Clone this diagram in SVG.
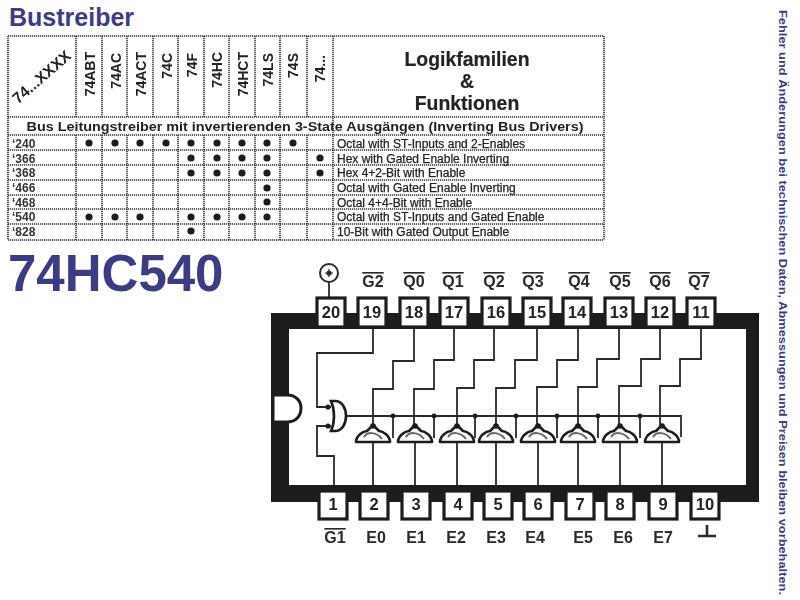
<svg xmlns="http://www.w3.org/2000/svg" width="800" height="600" viewBox="0 0 800 600">
<style>
text{font-family:"Liberation Sans",Arial,sans-serif}
.h1{font-weight:700;fill:#3c3c82}
.grid line{stroke:#333;stroke-width:1.6;stroke-dasharray:1.2 .8}
.th{font-weight:700;font-size:14px;fill:#222;text-anchor:end}
.big{font-weight:700;font-size:19.4px;fill:#222;text-anchor:middle;stroke:#222;stroke-width:.2}
.id{font-weight:700;font-size:12px;fill:#333}
.fn{font-size:12px;font-weight:400;fill:#222;stroke:#222;stroke-width:.25}
.dot{fill:#1f1f1f}
.wire{fill:none;stroke:#2a2a2a;stroke-width:1.8}
.pin rect{fill:#fff;stroke:#1c1c1c;stroke-width:3.2}
.pin text{font-weight:700;font-size:16.5px;fill:#222;text-anchor:middle}
.lab{font-weight:700;font-size:16px;fill:#2a2a2a;text-anchor:middle}
.ov{text-decoration:overline}
#d path{fill:#fff;stroke:#1c1c1c;stroke-width:2.6;stroke-linejoin:round}
#d path.in{fill:none;stroke:#666;stroke-width:2}
</style>
<defs>
<filter id="s" x="-5%" y="-5%" width="110%" height="110%"><feGaussianBlur stdDeviation="0.4"/></filter>
<g id="d"><path d="M-17 442C-17 436-10 431-6 431L0 425L6 431C10 431 17 436 17 442Z"/><path class="in" d="M-9 437C-6 432 3 431 9 439"/><circle cy="426" r="2.8" fill="#1c1c1c"/></g>
</defs>
<rect width="800" height="600" fill="#fff"/>
<text class="h1" x="9" y="26" font-size="25">Bustreiber</text>
<text class="h1" x="8" y="291" font-size="51">74HC540</text>
<text class="h1" font-size="11.5" transform="translate(779,10) rotate(90)" textLength="585" lengthAdjust="spacingAndGlyphs">Fehler und Änderungen bei technischen Daten, Abmessungen und Preisen bleiben vorbehalten.</text>

<g id="table" filter="url(#s)">
<g class="grid">
<line x1="8" y1="36" x2="604" y2="36"/><line x1="8" y1="117" x2="604" y2="117"/><line x1="8" y1="135" x2="604" y2="135"/><line x1="8" y1="150" x2="604" y2="150"/><line x1="8" y1="165" x2="604" y2="165"/><line x1="8" y1="180" x2="604" y2="180"/><line x1="8" y1="195" x2="604" y2="195"/><line x1="8" y1="209" x2="604" y2="209"/><line x1="8" y1="224" x2="604" y2="224"/><line x1="8" y1="240" x2="604" y2="240"/>
<line x1="8" y1="36" x2="8" y2="240"/><line x1="604" y1="36" x2="604" y2="240"/><line x1="333" y1="36" x2="333" y2="240"/>
<line x1="76" y1="36" x2="76" y2="117"/><line x1="102" y1="36" x2="102" y2="117"/><line x1="127" y1="36" x2="127" y2="117"/><line x1="153" y1="36" x2="153" y2="117"/><line x1="178" y1="36" x2="178" y2="117"/><line x1="204" y1="36" x2="204" y2="117"/><line x1="229" y1="36" x2="229" y2="117"/><line x1="255" y1="36" x2="255" y2="117"/><line x1="280" y1="36" x2="280" y2="117"/><line x1="307" y1="36" x2="307" y2="117"/>
<line x1="76" y1="135" x2="76" y2="240"/><line x1="102" y1="135" x2="102" y2="240"/><line x1="127" y1="135" x2="127" y2="240"/><line x1="153" y1="135" x2="153" y2="240"/><line x1="178" y1="135" x2="178" y2="240"/><line x1="204" y1="135" x2="204" y2="240"/><line x1="229" y1="135" x2="229" y2="240"/><line x1="255" y1="135" x2="255" y2="240"/><line x1="280" y1="135" x2="280" y2="240"/><line x1="307" y1="135" x2="307" y2="240"/>
</g>
<text transform="translate(45,81) rotate(-41)" font-size="15.5" font-weight="700" fill="#222" text-anchor="middle">74...XXXX</text>
<text class="th" transform="translate(95,52) rotate(-90)">74ABT</text>
<text class="th" transform="translate(121,53) rotate(-90)">74AC</text>
<text class="th" transform="translate(146,52) rotate(-90)">74ACT</text>
<text class="th" transform="translate(172,53) rotate(-90)">74C</text>
<text class="th" transform="translate(197,53) rotate(-90)">74F</text>
<text class="th" transform="translate(222,52) rotate(-90)">74HC</text>
<text class="th" transform="translate(248,52) rotate(-90)">74HCT</text>
<text class="th" transform="translate(273,53) rotate(-90)">74LS</text>
<text class="th" transform="translate(298,53) rotate(-90)">74S</text>
<text class="th" transform="translate(325,55) rotate(-90)">74...</text>
<text class="big" x="467" y="66">Logikfamilien</text>
<text class="big" x="467" y="88">&amp;</text>
<text class="big" x="467" y="110">Funktionen</text>
<text x="305" y="131" text-anchor="middle" font-size="13.5" font-weight="700" fill="#222" textLength="557" lengthAdjust="spacingAndGlyphs">Bus Leitungstreiber mit invertierenden 3-State Ausgängen (Inverting Bus Drivers)</text>
<text class="id" x="12" y="148">‘240</text><text class="id" x="12" y="163">‘366</text><text class="id" x="12" y="177">‘368</text><text class="id" x="12" y="192">‘466</text><text class="id" x="12" y="207">‘468</text><text class="id" x="12" y="221">‘540</text><text class="id" x="12" y="236">‘828</text>
<text class="fn" x="337" y="148">Octal with ST-Inputs and 2-Enables</text>
<text class="fn" x="337" y="163">Hex with Gated Enable Inverting</text>
<text class="fn" x="337" y="177">Hex 4+2-Bit with Enable</text>
<text class="fn" x="337" y="192">Octal with Gated Enable Inverting</text>
<text class="fn" x="337" y="207">Octal 4+4-Bit with Enable</text>
<text class="fn" x="337" y="221">Octal with ST-Inputs and Gated Enable</text>
<text class="fn" x="337" y="236">10-Bit with Gated Output Enable</text>
<g class="dot">
<circle cx="89" cy="143" r="3.6"/><circle cx="115" cy="143" r="3.6"/><circle cx="140" cy="143" r="3.6"/><circle cx="166" cy="143" r="3.6"/><circle cx="191" cy="143" r="3.6"/><circle cx="217" cy="143" r="3.6"/><circle cx="242" cy="143" r="3.6"/><circle cx="267" cy="143" r="3.6"/><circle cx="293" cy="143" r="3.6"/>
<circle cx="191" cy="158" r="3.6"/><circle cx="217" cy="158" r="3.6"/><circle cx="242" cy="158" r="3.6"/><circle cx="267" cy="158" r="3.6"/><circle cx="320" cy="158" r="3.6"/>
<circle cx="191" cy="173" r="3.6"/><circle cx="217" cy="173" r="3.6"/><circle cx="242" cy="173" r="3.6"/><circle cx="267" cy="173" r="3.6"/><circle cx="320" cy="173" r="3.6"/>
<circle cx="267" cy="188" r="3.6"/><circle cx="267" cy="202" r="3.6"/>
<circle cx="89" cy="217" r="3.6"/><circle cx="115" cy="217" r="3.6"/><circle cx="140" cy="217" r="3.6"/><circle cx="191" cy="217" r="3.6"/><circle cx="217" cy="217" r="3.6"/><circle cx="242" cy="217" r="3.6"/><circle cx="267" cy="217" r="3.6"/>
<circle cx="191" cy="231" r="3.6"/>
</g>
</g>

<g filter="url(#s)">
<g id="ic-body">
<path fill="#1c1c1c" fill-rule="evenodd" d="M271 313H759V502H271ZM289 329V485H746V329Z"/>
<path d="M273 395H287C296 395 301 401 301 408C301 416 296 422 287 422H273Z" fill="#fff" stroke="#1c1c1c" stroke-width="3"/>
</g>
<g id="connectors" class="wire">
<path d="M329 282V297"/>
<path d="M373 329V353H317V407H331"/>
<path d="M331 426H317V456H334V485"/>
<path d="M346 416H681V437"/>
<path d="M414 329V361H393V389H373V425"/>
<path d="M454 329V360H434V389H414V425"/>
<path d="M494 329V360H474V388H457V425"/>
<path d="M537 329V360H515V388H496V425"/>
<path d="M578 329V360H557V387H537V425"/>
<path d="M619 329V359H597V387H578V425"/>
<path d="M660 329V359H641V386H619V425"/>
<path d="M701 329V359H680V386H660V425"/>
<path d="M393 416V438M434 416V438M475 416V438M516 416V438M557 416V438M598 416V438M640 416V438"/>
<path d="M373 442V485M415 442V485M457 442V485M496 442V485M538 442V485M578 442V485M620 442V485M662 442V485"/>
<path d="M707 525V536M698 536H716" stroke-width="2.6"/>
</g>
<g class="dot"><circle cx="393" cy="416" r="2.4"/><circle cx="434" cy="416" r="2.4"/><circle cx="475" cy="416" r="2.4"/><circle cx="516" cy="416" r="2.4"/><circle cx="557" cy="416" r="2.4"/><circle cx="598" cy="416" r="2.4"/><circle cx="640" cy="416" r="2.4"/><circle cx="328" cy="407" r="2.6"/><circle cx="328" cy="426" r="2.6"/></g>
<g id="and-gate"><path d="M331 401H335C342 401 346 408 346 416C346 424 342 431 335 431H331C335 422 335 410 331 401Z" fill="#fff" stroke="#1c1c1c" stroke-width="2.6"/></g>
<g id="driver-0"><use href="#d" x="373"/></g>
<g id="driver-1"><use href="#d" x="415"/></g>
<g id="driver-2"><use href="#d" x="457"/></g>
<g id="driver-3"><use href="#d" x="496"/></g>
<g id="driver-4"><use href="#d" x="538"/></g>
<g id="driver-5"><use href="#d" x="578"/></g>
<g id="driver-6"><use href="#d" x="620"/></g>
<g id="driver-7"><use href="#d" x="662"/></g>

<g id="pin-20" class="pin"><rect x="317" y="298" width="28" height="29"/><text x="331" y="318">20</text></g>
<g id="pin-19" class="pin"><rect x="358" y="298" width="28" height="29"/><text x="372" y="318">19</text></g>
<g id="pin-18" class="pin"><rect x="400" y="298" width="28" height="29"/><text x="414" y="318">18</text></g>
<g id="pin-17" class="pin"><rect x="440" y="298" width="28" height="29"/><text x="454" y="318">17</text></g>
<g id="pin-16" class="pin"><rect x="482" y="298" width="28" height="29"/><text x="496" y="318">16</text></g>
<g id="pin-15" class="pin"><rect x="523" y="298" width="28" height="29"/><text x="537" y="318">15</text></g>
<g id="pin-14" class="pin"><rect x="563" y="298" width="28" height="29"/><text x="577" y="318">14</text></g>
<g id="pin-13" class="pin"><rect x="605" y="298" width="28" height="29"/><text x="619" y="318">13</text></g>
<g id="pin-12" class="pin"><rect x="646" y="298" width="28" height="29"/><text x="660" y="318">12</text></g>
<g id="pin-11" class="pin"><rect x="687" y="298" width="28" height="29"/><text x="701" y="318">11</text></g>
<g id="pin-1" class="pin"><rect x="319" y="491" width="28" height="28"/><text x="333" y="510">1</text></g>
<g id="pin-2" class="pin"><rect x="360" y="491" width="28" height="28"/><text x="374" y="510">2</text></g>
<g id="pin-3" class="pin"><rect x="402" y="491" width="28" height="28"/><text x="416" y="510">3</text></g>
<g id="pin-4" class="pin"><rect x="444" y="491" width="28" height="28"/><text x="458" y="510">4</text></g>
<g id="pin-5" class="pin"><rect x="484" y="491" width="28" height="28"/><text x="498" y="510">5</text></g>
<g id="pin-6" class="pin"><rect x="524" y="491" width="28" height="28"/><text x="538" y="510">6</text></g>
<g id="pin-7" class="pin"><rect x="566" y="491" width="28" height="28"/><text x="580" y="510">7</text></g>
<g id="pin-8" class="pin"><rect x="606" y="491" width="28" height="28"/><text x="620" y="510">8</text></g>
<g id="pin-9" class="pin"><rect x="649" y="491" width="28" height="28"/><text x="663" y="510">9</text></g>
<g id="pin-10" class="pin"><rect x="691" y="491" width="28" height="28"/><text x="705" y="510">10</text></g>

<g id="vcc"><circle cx="329" cy="273" r="9" fill="#fff" stroke="#2a2a2a" stroke-width="2"/><circle cx="329" cy="273" r="2.6" fill="#2a2a2a"/><path d="M329 269V277M325 273H333" stroke="#2a2a2a" stroke-width="1.2"/></g>
<g id="labels-top">
<text class="lab ov" x="373" y="287">G2</text><text class="lab ov" x="414" y="287">Q0</text><text class="lab ov" x="453" y="287">Q1</text><text class="lab ov" x="494" y="287">Q2</text><text class="lab ov" x="533" y="287">Q3</text><text class="lab ov" x="579" y="287">Q4</text><text class="lab ov" x="620" y="287">Q5</text><text class="lab ov" x="660" y="287">Q6</text><text class="lab ov" x="699" y="287">Q7</text>
</g>
<g id="labels-bottom">
<text class="lab ov" x="335" y="543">G1</text><text class="lab" x="376" y="543">E0</text><text class="lab" x="416" y="543">E1</text><text class="lab" x="456" y="543">E2</text><text class="lab" x="496" y="543">E3</text><text class="lab" x="535" y="543">E4</text><text class="lab" x="583" y="543">E5</text><text class="lab" x="623" y="543">E6</text><text class="lab" x="663" y="543">E7</text>
</g>
</g>
</svg>
